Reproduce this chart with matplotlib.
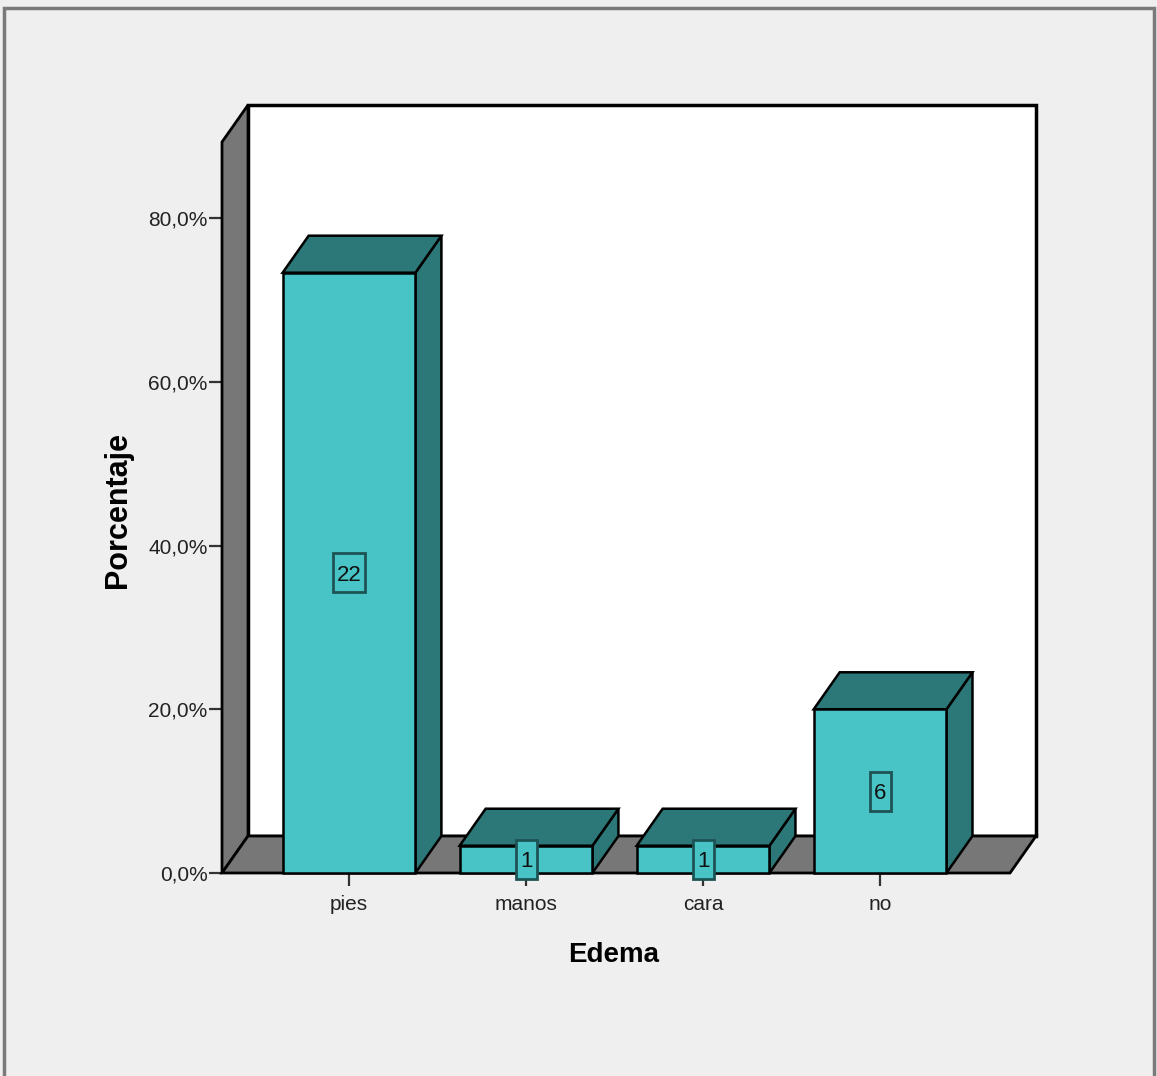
import numpy as np
import matplotlib
matplotlib.use("Agg")
import matplotlib.pyplot as plt
from matplotlib.patches import Polygon, Rectangle
from matplotlib.transforms import ScaledTranslation

plt.rcParams['font.family'] = ['Liberation Sans', 'DejaVu Sans']

# Edema frequencies
categories = ["pies", "manos", "cara", "no"]
counts = [22, 1, 1, 6]
y_ticks = [0, 20, 40, 60, 80]
y_tick_labels = ["0,0%", "20,0%", "40,0%", "60,0%", "80,0%"]

percent = np.array(counts) / sum(counts) * 100

# colours of the 3D box style
FRONT = "#48c3c6"
SHADE = "#2c7778"
WALL = "#777777"
BG = "#efefef"

# depth of the pseudo-3D projection, in data units
DX, DY = 0.147, 4.52
BAR_W = 0.75
XMIN, XMAX = -0.7175, 3.734
YTOP = 89.3

fig = plt.figure(figsize=(11.57, 10.76), dpi=100, facecolor=BG)
ax = fig.add_axes([222 / 1157, 1 - 873 / 1076, 788 / 1157, 731 / 1076])
ax.set_xlim(XMIN, XMAX)
ax.set_ylim(0, YTOP)
ax.patch.set_visible(False)
for s in ax.spines.values():
    s.set_visible(False)


def poly(pts, fc, lw=1.8, z=1):
    ax.add_patch(Polygon(pts, closed=True, facecolor=fc, edgecolor="black",
                         linewidth=lw, clip_on=False, zorder=z, joinstyle="miter"))


# back wall, left wall, floor
poly([(XMIN + DX, DY), (XMAX + DX, DY), (XMAX + DX, YTOP + DY), (XMIN + DX, YTOP + DY)],
     "white", lw=2.5, z=1)
poly([(XMIN, 0), (XMIN, YTOP), (XMIN + DX, YTOP + DY), (XMIN + DX, DY)], WALL, lw=2, z=2)
poly([(XMIN, 0), (XMAX, 0), (XMAX + DX, DY), (XMIN + DX, DY)], WALL, lw=2, z=2)

# bars: side, top, front face, then the count label in a small box
x = np.arange(len(categories))
for i, (xc, h) in enumerate(zip(x, percent)):
    x0, x1 = xc - BAR_W / 2, xc + BAR_W / 2
    z = 3 + i
    poly([(x1, 0), (x1 + DX, DY), (x1 + DX, h + DY), (x1, h)], SHADE, z=z)
    poly([(x0, h), (x1, h), (x1 + DX, h + DY), (x0 + DX, h + DY)], SHADE, z=z)
    poly([(x0, 0), (x1, 0), (x1, h), (x0, h)], FRONT, z=z)

    label = str(counts[i])
    bw = (10 + 11 * len(label)) / 100   # inches
    bh = 0.39
    box_trans = fig.dpi_scale_trans + ScaledTranslation(xc, h / 2, ax.transData)
    ax.add_patch(Rectangle((-bw / 2, -bh / 2), bw, bh, transform=box_trans,
                           facecolor=FRONT, edgecolor="#1e5354", linewidth=2,
                           clip_on=False, zorder=z + 0.4))
    ax.text(xc, h / 2, label, ha="center", va="center_baseline", fontsize=16,
            color="#111111", zorder=z + 0.5)

ax.set_xticks(x)
ax.set_xticklabels(categories)
ax.set_yticks(y_ticks)
ax.set_yticklabels(y_tick_labels)
ax.tick_params(axis="both", direction="out", length=9.5, width=1.6,
               colors="#333333", labelcolor="#222222", labelsize=15)
ax.tick_params(axis="y", pad=1)
ax.tick_params(axis="x", pad=6)

fig.text(118 / 1157, 1 - 510 / 1076, "Porcentaje", rotation=90, ha="center",
         va="center", fontsize=22, fontweight="bold")
fig.text(614 / 1157, 1 - 955 / 1076, "Edema", ha="center", va="center",
         fontsize=20, fontweight="bold")

# outer frame
fig.add_artist(Rectangle((3.5 / 1157, -0.01), 1150.5 / 1157, 1.01 - 7.5 / 1076,
                         transform=fig.transFigure, facecolor="none",
                         edgecolor="#7a7a7a", linewidth=2.5))

fig.savefig("out.png", dpi=100, facecolor=BG)
